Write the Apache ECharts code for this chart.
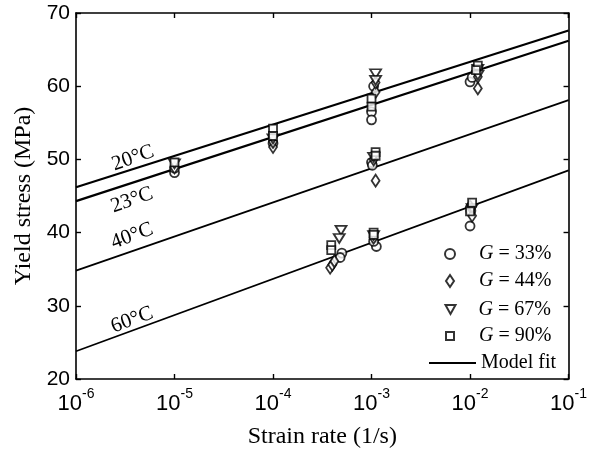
<!DOCTYPE html>
<html>
<head>
<meta charset="utf-8">
<script src="https://cdn.jsdelivr.net/npm/echarts@6/dist/echarts.min.js"></script>
<style>
html,body{margin:0;padding:0;background:#fff;}
#chart{width:590px;height:454px;}
</style>
</head>
<body>
<div id="chart"></div>
<script>
// ---- data ----
const xMin = 1e-6, xMax = 1e-1;
const yMin = 20, yMax = 70, yStep = 10;
const fitX = [1e-6, 1e-1];
const fit20 = [46.2, 67.6];
const fit23 = [44.3, 66.2];
const fit40 = [34.8, 58.1];
const fit60 = [23.8, 48.5];
const tempLabels = ['20°C', '23°C', '40°C', '60°C'];

const g33 = [[1.0e-5,48.2],[1.0e-5,48.8],[1.0e-4,52.2],[1.0e-3,56.5],[1.0e-3,55.4],[1.05e-3,60.0],
  [1.0e-2,60.6],[1.05e-2,61.2],[1.0e-3,49.6],[1.02e-3,49.2],[5.0e-4,37.2],[4.8e-4,36.6],
  [1.12e-3,38.1],[1.05e-3,38.8],[1.0e-2,40.9],[1.02e-2,43.0]];
const g44 = [[1.0e-5,48.9],[1.0e-4,51.7],[1.0e-4,52.4],[1.1e-3,59.2],[1.1e-3,60.5],[1.2e-2,59.7],
  [1.2e-2,61.3],[1.1e-3,47.1],[1.05e-3,50.0],[3.8e-4,35.2],[4.0e-4,35.6],[4.2e-4,36.1],
  [1.05e-3,39.3],[1.05e-2,42.3],[1.0e-2,43.6]];
const g67 = [[1.0e-5,49.4],[1.0e-4,52.8],[1.1e-3,61.7],[1.1e-3,60.8],[1.2e-2,62.3],[1.2e-2,61.5],
  [1.05e-3,50.3],[4.9e-4,40.3],[4.7e-4,39.2],[1.05e-3,39.6],[1.05e-2,43.3]];
const g90 = [[1.0e-5,49.6],[1.0e-4,54.2],[1.0e-4,53.2],[1.0e-3,58.3],[1.0e-3,57.2],[1.2e-2,62.8],
  [1.15e-2,62.2],[1.1e-3,51.0],[1.1e-3,50.5],[3.9e-4,38.3],[3.9e-4,37.6],[1.05e-3,40.0],
  [1.05e-3,39.7],[1.05e-2,44.1],[1.0e-2,42.9]];
const legendNames = ['G = 33%', 'G = 44%', 'G = 67%', 'G = 90%', 'Model fit'];

// ---- chart ----
const chart = echarts.init(document.getElementById('chart'), null, {renderer: 'canvas'});
const sans = 'Liberation Sans, Arial, sans-serif';
const serif = 'Liberation Serif, Times New Roman, serif';

function pairs(xs, ys) { return xs.map((x, i) => [x, ys[i]]); }
function fitSeries(ys, w) {
  return { name: 'Model fit', type: 'line', data: pairs(fitX, ys), symbol: 'none', z: 1,
    itemStyle: { color: '#000' },
    lineStyle: { color: '#000', width: w }, silent: true, animation: false };
}
const pointStyle = { color: '#fff', borderColor: '#000', borderWidth: 1.8 };
function scatter(name, data, symbol, size, rot) {
  return { name: name, type: 'scatter', data: data, symbol: symbol, symbolSize: size,
    symbolRotate: rot || 0, itemStyle: pointStyle, z: 3, animation: false };
}

const axisLine = { show: true, onZero: false, lineStyle: { color: '#000', width: 1.6 } };
const axisTick = { show: true, inside: true, length: 5, lineStyle: { color: '#000', width: 1.4 } };

const legText = { fontFamily: serif, fontSize: 20, color: '#000', lineHeight: 20 };
function legendFor(idx, icon, cx, cy, w, h, textX) {
  const left = cx - w / 2, top = cy - h / 2;
  const spacer = textX - (left + w + 5);
  const item = { name: legendNames[idx] };
  if (icon) item.icon = icon;
  if (idx === 4) item.itemStyle = { color: 'rgba(0,0,0,0)', borderColor: 'rgba(0,0,0,0)', borderWidth: 0 };
  return {
    orient: 'vertical', left: left, top: top, padding: 0,
    itemWidth: w, itemHeight: h, selectedMode: false,
    data: [item],
    textStyle: Object.assign({}, legText, {
      rich: { sp: { width: Math.max(spacer, 0) },
              i: Object.assign({}, legText, { fontStyle: 'italic' }),
              t: Object.assign({}, legText) } }),
    formatter: n => n.indexOf('G') === 0 ? '{sp|}{i|G}{t|' + n.slice(1) + '}' : '{sp|}{t|' + n + '}'
  };
}

const option = {
  backgroundColor: '#fff',
  animation: false,
  grid: { left: 76, right: 19, top: 13, bottom: 72 },
  xAxis: [
    { type: 'log', logBase: 10, min: xMin, max: xMax, position: 'bottom',
      axisLine: axisLine, axisTick: axisTick, splitLine: { show: false }, minorTick: { show: false },
      axisLabel: { margin: 8, color: '#000',
        formatter: v => '{b|10}{s|' + Math.round(Math.log10(v)) + '}',
        rich: { b: { fontFamily: sans, fontSize: 22, color: '#000', verticalAlign: 'bottom', lineHeight: 28 },
                s: { fontFamily: sans, fontSize: 14, color: '#000', verticalAlign: 'top', lineHeight: 14, padding: [0,0,0,0] } } },
      name: 'Strain rate (1/s)', nameLocation: 'middle', nameGap: 46,
      nameTextStyle: { fontFamily: serif, fontSize: 24, color: '#000' } },
    { type: 'log', logBase: 10, min: xMin, max: xMax, position: 'top',
      axisLine: axisLine, axisTick: axisTick, axisLabel: { show: false }, splitLine: { show: false } }
  ],
  yAxis: [
    { type: 'value', min: yMin, max: yMax, interval: yStep, position: 'left',
      axisLine: axisLine, axisTick: axisTick, splitLine: { show: false },
      axisLabel: { margin: 6, color: '#000', fontFamily: sans, fontSize: 21 },
      name: 'Yield stress (MPa)', nameLocation: 'middle', nameGap: 39,
      nameTextStyle: { fontFamily: serif, fontSize: 24, color: '#000' } },
    { type: 'value', min: yMin, max: yMax, interval: yStep, position: 'right',
      axisLine: axisLine, axisTick: axisTick, splitLine: { show: false }, axisLabel: { show: false } }
  ],
  legend: [
    legendFor(0, 'circle', 449, 249, 10, 10, 478),
    legendFor(1, 'diamond', 449, 277, 8, 12, 478),
    legendFor(2, 'path://M0,0 L10,0 L5,9 Z', 450, 304, 11, 9, 478),
    legendFor(3, 'rect', 449, 330, 8, 8, 478),
    legendFor(4, null, 451.5, 358, 47, 10, 478)
  ],
  graphic: [
    { type: 'text', x: 133, y: 158, rotation: 0.34, style: { text: tempLabels[0], font: '21px ' + serif, fill: '#000', align: 'center', verticalAlign: 'middle' } },
    { type: 'text', x: 132, y: 200, rotation: 0.34, style: { text: tempLabels[1], font: '21px ' + serif, fill: '#000', align: 'center', verticalAlign: 'middle' } },
    { type: 'text', x: 132, y: 236, rotation: 0.36, style: { text: tempLabels[2], font: '21px ' + serif, fill: '#000', align: 'center', verticalAlign: 'middle' } },
    { type: 'text', x: 132, y: 320, rotation: 0.36, style: { text: tempLabels[3], font: '21px ' + serif, fill: '#000', align: 'center', verticalAlign: 'middle' } }
  ],
  series: [
    fitSeries(fit20, 2.2), fitSeries(fit23, 2.2), fitSeries(fit40, 1.7), fitSeries(fit60, 1.7),
    scatter(legendNames[0], g33, 'circle', 9),
    scatter(legendNames[1], g44, 'diamond', [8, 12]),
    scatter(legendNames[2], g67, 'triangle', [11, 9], 180),
    scatter(legendNames[3], g90, 'rect', 8)
  ]
};
chart.setOption(option);
</script>
</body>
</html>
